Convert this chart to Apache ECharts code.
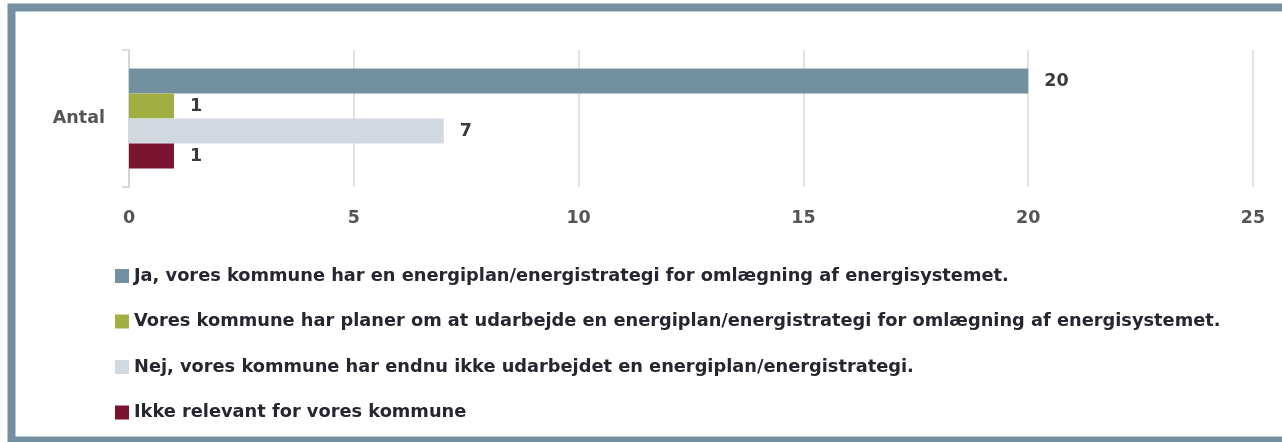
<!DOCTYPE html>
<html>
<head>
<meta charset="utf-8">
<script src="https://cdn.jsdelivr.net/npm/echarts@6/dist/echarts.min.js"></script>
<style>
  html, body { margin: 0; padding: 0; background: #fff; }
  #chart { width: 1282px; height: 442px; }
</style>
</head>
<body>
<div id="chart"></div>
<script>
// data
var categories = ['Antal'];
var seriesNames = [
  'Ja, vores kommune har en energiplan/energistrategi for omlægning af energisystemet.',
  'Vores kommune har planer om at udarbejde en energiplan/energistrategi for omlægning af energisystemet.',
  'Nej, vores kommune har endnu ikke udarbejdet en energiplan/energistrategi.',
  'Ikke relevant for vores kommune'
];
var values = [20, 1, 7, 1];
var xTicks = { min: 0, max: 25, interval: 5 };

var colors = ['#7390a1', '#a0ae42', '#d1d8e0', '#7a1330'];
var font = 'DejaVu Sans, sans-serif';

var chart = echarts.init(document.getElementById('chart'));

var series = seriesNames.map(function (name, i) {
  return {
    name: name,
    type: 'bar',
    data: [values[i]],
    barGap: '0%',
    barCategoryGap: '27%',
    itemStyle: { color: colors[i] },
    label: {
      show: true,
      position: 'right',
      distance: 16,
      color: '#3a3a3a',
      fontSize: 17.5,
      fontWeight: 'bold',
      fontFamily: font
    }
  };
});

chart.setOption({
  animation: false,
  color: colors,
  graphic: [{
    type: 'rect',
    shape: { x: 11.5, y: 7.5, width: 1290, height: 433 },
    style: { fill: 'none', stroke: '#7390a1', lineWidth: 8 },
    silent: true
  }],
  grid: { left: 129, right: 29, top: 50, height: 137, containLabel: false },
  xAxis: {
    type: 'value',
    min: xTicks.min,
    max: xTicks.max,
    interval: xTicks.interval,
    axisLine: { show: false },
    axisTick: { show: false },
    splitLine: { lineStyle: { color: '#d9d9d9', width: 1.5 } },
    axisLabel: { color: '#555', fontSize: 17.5, fontWeight: 'bold', fontFamily: font, margin: 22 }
  },
  yAxis: {
    type: 'category',
    inverse: true,
    data: categories,
    axisLine: { lineStyle: { color: '#d0d0d0', width: 1.5 } },
    axisTick: { show: true, length: 7, lineStyle: { color: '#d0d0d0', width: 1.5 } },
    axisLabel: { color: '#555', fontSize: 17.5, fontWeight: 'bold', fontFamily: font, margin: 24 }
  },
  legend: {
    orient: 'vertical',
    left: 110,
    top: 262,
    itemWidth: 14,
    itemHeight: 14,
    itemGap: 27.5,
    icon: 'rect',
    textStyle: { color: '#262630', fontSize: 17.8, fontWeight: 'bold', fontFamily: font },
    data: seriesNames
  },
  series: series
});
</script>
</body>
</html>
